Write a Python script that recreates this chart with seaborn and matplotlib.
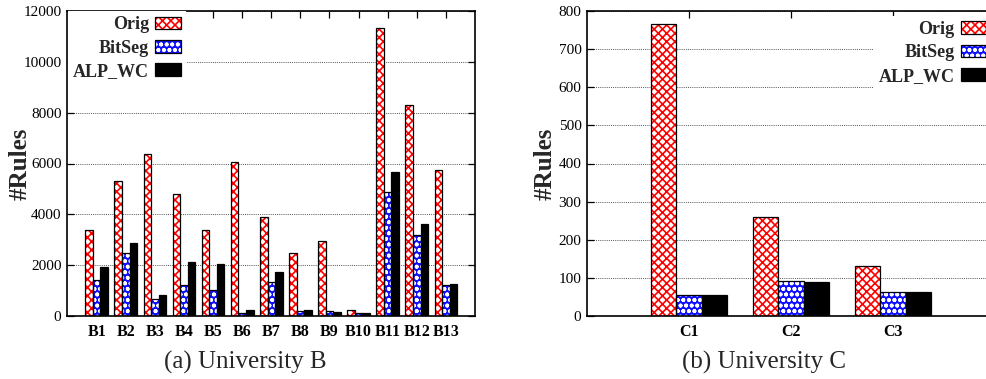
import numpy as np
import pandas as pd
import matplotlib
matplotlib.use("Agg")
import matplotlib.pyplot as plt
import matplotlib.patches as mpatches
import seaborn as sns

# ---- data ----
series = ["Orig", "BitSeg", "ALP_WC"]

b_labels = ["B1", "B2", "B3", "B4", "B5", "B6", "B7", "B8", "B9", "B10", "B11", "B12", "B13"]
b_orig = [3380, 5300, 6360, 4800, 3380, 6070, 3880, 2460, 2960, 240, 11350, 8300, 5740]
b_bitseg = [1415, 2460, 655, 1220, 1020, 130, 1340, 200, 200, 130, 4860, 3185, 1220]
b_alpwc = [1940, 2880, 840, 2135, 2045, 250, 1740, 250, 170, 105, 5660, 3620, 1260]

c_labels = ["C1", "C2", "C3"]
c_orig = [765, 259, 131]
c_bitseg = [55, 92, 63]
c_alpwc = [55, 90, 63]

b_yticks = [0, 2000, 4000, 6000, 8000, 10000, 12000]
c_yticks = [0, 100, 200, 300, 400, 500, 600, 700, 800]

# ---- styling ----
sns.set_theme(style="ticks")
plt.rcParams["font.family"] = ["Liberation Serif", "DejaVu Serif"]
plt.rcParams["hatch.linewidth"] = 1.2

styles = {
    "Orig": dict(face="white", hatchcolor="#ff0000", hatch="xxxx"),
    "BitSeg": dict(face="#1010ff", hatchcolor="white", hatch="ooo"),
    "ALP_WC": dict(face="black", hatchcolor="black", hatch=None),
}


def long_df(labels, vals):
    rows = []
    for s, v in zip(series, vals):
        for lab, y in zip(labels, v):
            rows.append({"cat": lab, "series": s, "value": y})
    return pd.DataFrame(rows)


def style_bars(ax):
    for cont, s in zip(ax.containers, series):
        st = styles[s]
        for p in cont.patches:
            p.set_facecolor(st["face"])
            p.set_edgecolor(st["hatchcolor"])
            p.set_linewidth(0)
            if st["hatch"]:
                p.set_hatch(st["hatch"])
            outline = mpatches.Rectangle(p.get_xy(), p.get_width(), p.get_height(),
                                         fill=False, edgecolor="black", linewidth=0.9,
                                         zorder=p.get_zorder() + 0.1)
            ax.add_patch(outline)


def legend_handles():
    hs = []
    for s in series:
        st = styles[s]
        h1 = mpatches.Patch(facecolor=st["face"], edgecolor=st["hatchcolor"],
                            hatch=st["hatch"], linewidth=0)
        h2 = mpatches.Patch(fill=False, edgecolor="black", linewidth=0.9)
        hs.append((h1, h2))
    return hs


def setup_axes(ax, yticks, label_x):
    ax.set_ylim(yticks[0], yticks[-1])
    ax.set_yticks(yticks)
    ax.set_yticklabels([str(t) for t in yticks], fontsize=11)
    ax.yaxis.grid(True, linestyle=(0, (1, 1.2)), color="#555555", linewidth=0.7)
    ax.xaxis.grid(False)
    ax.set_axisbelow(True)
    for sp in ax.spines.values():
        sp.set_visible(True)
        sp.set_color("black")
        sp.set_linewidth(1.2)
    ax.tick_params(direction="in", top=True, right=True, length=5, width=0.9,
                   colors="black", pad=4)
    ax.tick_params(axis="x", bottom=False, pad=6)
    for t in ax.get_xticklabels():
        t.set_fontweight("bold")
        t.set_fontsize(11.5)
    ax.set_xlabel("")
    ax.set_ylabel("#Rules", fontsize=18, fontweight="bold")
    ax.yaxis.label.set_va("center")
    ax.yaxis.set_label_coords(label_x, 0.5)


fig = plt.figure(figsize=(9.87, 3.79), dpi=100)
axL = fig.add_axes([67 / 987, 63 / 379, 408 / 987, 305 / 379])
axR = fig.add_axes([587 / 987, 63 / 379, 408 / 987, 305 / 379])

dfB = long_df(b_labels, [b_orig, b_bitseg, b_alpwc])
dfC = long_df(c_labels, [c_orig, c_bitseg, c_alpwc])

sns.barplot(data=dfB, x="cat", y="value", hue="series", ax=axL, width=0.78,
            legend=False, errorbar=None, gap=0, saturation=1)
sns.barplot(data=dfC, x="cat", y="value", hue="series", ax=axR, width=0.75,
            legend=False, errorbar=None, gap=0, saturation=1)

style_bars(axL)
style_bars(axR)
setup_axes(axL, b_yticks, (20 - 67) / 408)
setup_axes(axR, c_yticks, (545 - 587) / 408)
axL.set_xlim(-1.02, 13.0)
axR.set_xlim(-1.0, 3.0)

for ax, anchor in ((axL, (0.292, 1.0)), (axR, (0.992, 0.985))):
    leg = ax.legend(legend_handles(), series, loc="upper right", bbox_to_anchor=anchor,
                    markerfirst=False, frameon=True, fancybox=False, framealpha=1,
                    edgecolor="none", facecolor="white", borderpad=0.3,
                    borderaxespad=0, handlelength=1.4, handleheight=0.7,
                    handletextpad=0.35, labelspacing=0.35,
                    prop={"family": "Liberation Serif", "weight": "bold", "size": 13})

fig.text(245 / 987, 1 - 362 / 379, "(a) University B", ha="center", va="center",
         fontsize=18)
fig.text(764 / 987, 1 - 362 / 379, "(b) University C", ha="center", va="center",
         fontsize=18)

fig.savefig("out.png", dpi=100)
